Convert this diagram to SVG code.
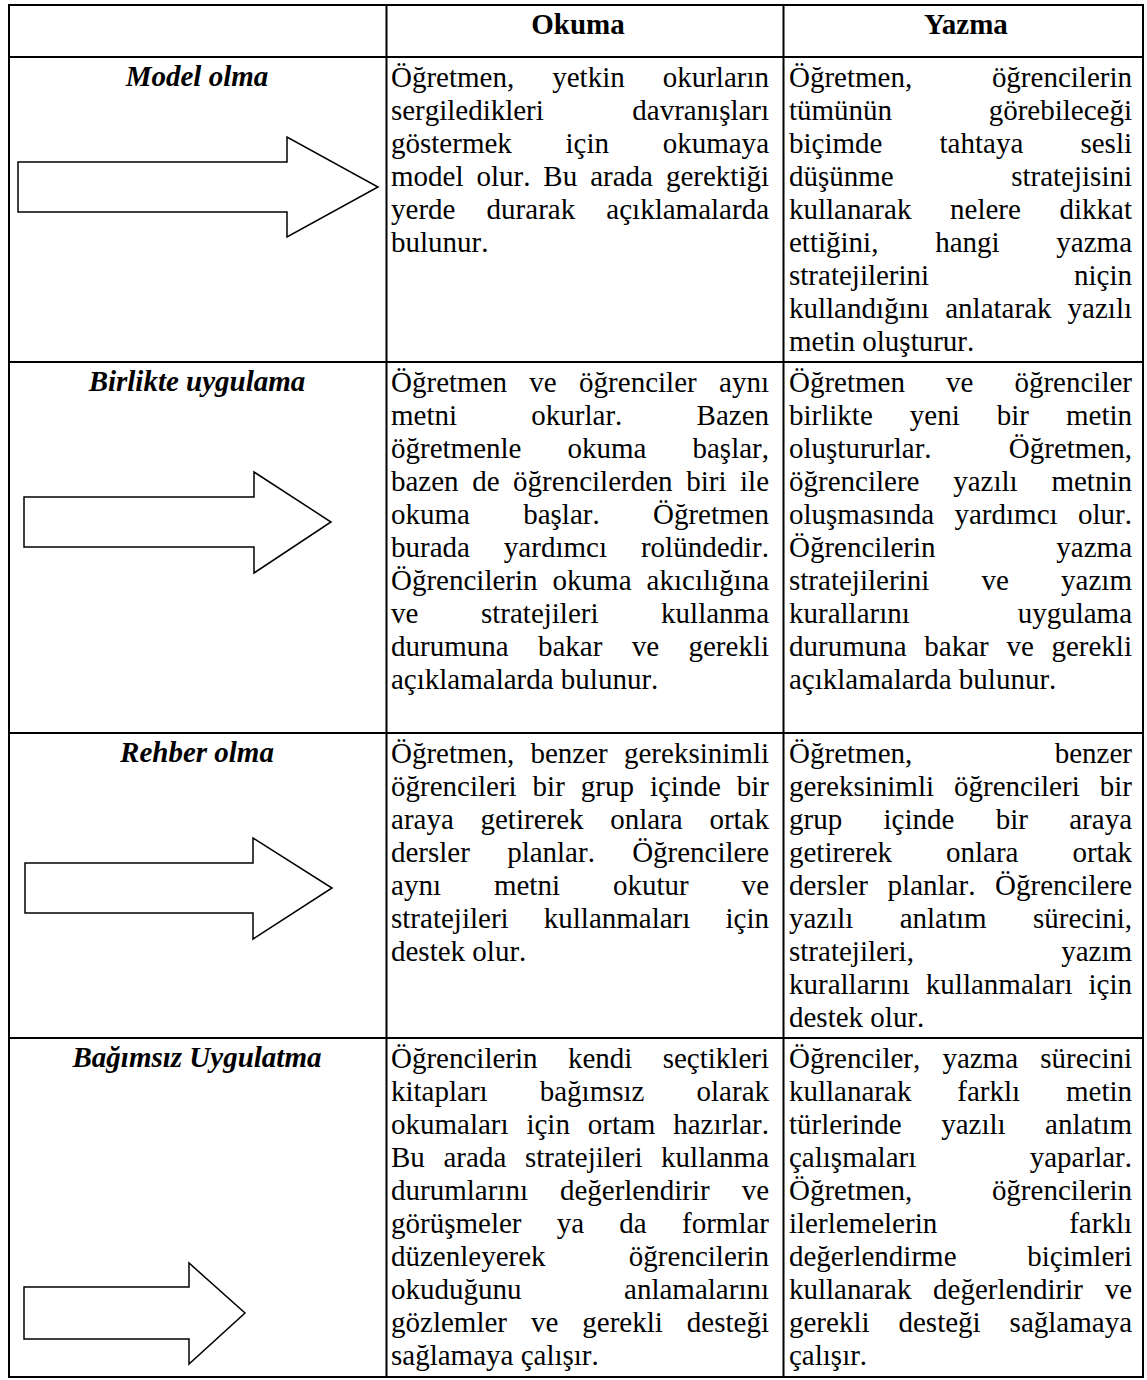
<svg xmlns="http://www.w3.org/2000/svg" width="1147" height="1380" viewBox="0 0 1147 1380">
  <style>
    .grid { stroke: #000; stroke-width: 2; fill: none; }
    .arrow { fill: #fff; stroke: #000; stroke-width: 1.5; stroke-linejoin: miter; }
    text { font-family: "Liberation Serif", "Times New Roman", serif; fill: #000; }
    .body { font-size: 29px; font-kerning: none; }
    .head { font-size: 29px; font-weight: bold; text-anchor: middle; }
    .stage { font-size: 29px; font-weight: bold; font-style: italic; text-anchor: middle; }
  </style>

  <!-- table frame -->
  <g id="table-grid" class="grid">
    <rect x="9" y="5" width="1134" height="1372"/>
    <line x1="386.5" y1="5" x2="386.5" y2="1377"/>
    <line x1="783.5" y1="5" x2="783.5" y2="1377"/>
    <line x1="9" y1="57" x2="1143" y2="57"/>
    <line x1="9" y1="362" x2="1143" y2="362"/>
    <line x1="9" y1="733" x2="1143" y2="733"/>
    <line x1="9" y1="1038" x2="1143" y2="1038"/>
  </g>

  <!-- column headings -->
  <g id="header">
    <text class="head" x="578" y="34">Okuma</text>
    <text class="head" x="966" y="34">Yazma</text>
  </g>

  <!-- block arrows, one per stage -->
  <g id="connectors">
    <polygon class="arrow" points="18,162 287,162 287,137 378,187 287,237 287,212 18,212"/>
    <polygon class="arrow" points="24,497 254,497 254,472 331,522 254,573 254,547 24,547"/>
    <polygon class="arrow" points="25,863 253,863 253,838 332,888 253,939 253,913 25,913"/>
    <polygon class="arrow" points="24,1287 189,1287 189,1263 245,1313 189,1364 189,1339 24,1339"/>
  </g>

  <!-- stage 1 -->
  <g id="model-olma">
    <text class="stage" x="197" y="86">Model olma</text>
    <g class="body">
      <text x="391" y="87" word-spacing="30.75" textLength="378" lengthAdjust="spacing">Öğretmen, yetkin okurların</text>
      <text x="391" y="120" word-spacing="81.4" textLength="378" lengthAdjust="spacing">sergiledikleri davranışları</text>
      <text x="391" y="153" word-spacing="46.4" textLength="378" lengthAdjust="spacing">göstermek için okumaya</text>
      <text x="391" y="186" word-spacing="5.7" textLength="378" lengthAdjust="spacing">model olur. Bu arada gerektiği</text>
      <text x="391" y="219" word-spacing="23.9" textLength="378" lengthAdjust="spacing">yerde durarak açıklamalarda</text>
      <text x="391" y="252">bulunur.</text>

      <text x="789" y="87" word-spacing="72.4" textLength="343" lengthAdjust="spacing">Öğretmen, öğrencilerin</text>
      <text x="789" y="120" word-spacing="89.3" textLength="343" lengthAdjust="spacing">tümünün görebileceği</text>
      <text x="789" y="153" word-spacing="49.9" textLength="343" lengthAdjust="spacing">biçimde tahtaya sesli</text>
      <text x="789" y="186" word-spacing="110.2" textLength="343" lengthAdjust="spacing">düşünme stratejisini</text>
      <text x="789" y="219" word-spacing="31.4" textLength="343" lengthAdjust="spacing">kullanarak nelere dikkat</text>
      <text x="789" y="252" word-spacing="49.5" textLength="343" lengthAdjust="spacing">ettiğini, hangi yazma</text>
      <text x="789" y="285" word-spacing="137.6" textLength="343" lengthAdjust="spacing">stratejilerini niçin</text>
      <text x="789" y="318" word-spacing="8.8" textLength="343" lengthAdjust="spacing">kullandığını anlatarak yazılı</text>
      <text x="789" y="351">metin oluşturur.</text>
    </g>
  </g>

  <!-- stage 2 -->
  <g id="birlikte-uygulama">
    <text class="stage" x="197" y="391">Birlikte uygulama</text>
    <g class="body">
      <text x="391" y="392" word-spacing="15.1" textLength="378" lengthAdjust="spacing">Öğretmen ve öğrenciler aynı</text>
      <text x="391" y="425" word-spacing="67" textLength="378" lengthAdjust="spacing">metni okurlar. Bazen</text>
      <text x="391" y="458" word-spacing="38.8" textLength="378" lengthAdjust="spacing">öğretmenle okuma başlar,</text>
      <text x="391" y="491" word-spacing="6.3" textLength="378" lengthAdjust="spacing">bazen de öğrencilerden biri ile</text>
      <text x="391" y="524" word-spacing="46" textLength="378" lengthAdjust="spacing">okuma başlar. Öğretmen</text>
      <text x="391" y="557" word-spacing="26.7" textLength="378" lengthAdjust="spacing">burada yardımcı rolündedir.</text>
      <text x="391" y="590" word-spacing="7.8" textLength="378" lengthAdjust="spacing">Öğrencilerin okuma akıcılığına</text>
      <text x="391" y="623" word-spacing="55.3" textLength="378" lengthAdjust="spacing">ve stratejileri kullanma</text>
      <text x="391" y="656" word-spacing="22.1" textLength="378" lengthAdjust="spacing">durumuna bakar ve gerekli</text>
      <text x="391" y="689">açıklamalarda bulunur.</text>

      <text x="789" y="392" word-spacing="33.8" textLength="343" lengthAdjust="spacing">Öğretmen ve öğrenciler</text>
      <text x="789" y="425" word-spacing="29.75" textLength="343" lengthAdjust="spacing">birlikte yeni bir metin</text>
      <text x="789" y="458" word-spacing="70" textLength="343" lengthAdjust="spacing">oluştururlar. Öğretmen,</text>
      <text x="789" y="491" word-spacing="26.5" textLength="343" lengthAdjust="spacing">öğrencilere yazılı metnin</text>
      <text x="789" y="524" word-spacing="13.2" textLength="343" lengthAdjust="spacing">oluşmasında yardımcı olur.</text>
      <text x="789" y="557" word-spacing="113.5" textLength="343" lengthAdjust="spacing">Öğrencilerin yazma</text>
      <text x="789" y="590" word-spacing="45" textLength="343" lengthAdjust="spacing">stratejilerini ve yazım</text>
      <text x="789" y="623" word-spacing="100.6" textLength="343" lengthAdjust="spacing">kurallarını uygulama</text>
      <text x="789" y="656" word-spacing="10.4" textLength="343" lengthAdjust="spacing">durumuna bakar ve gerekli</text>
      <text x="789" y="689">açıklamalarda bulunur.</text>
    </g>
  </g>

  <!-- stage 3 -->
  <g id="rehber-olma">
    <text class="stage" x="197" y="762">Rehber olma</text>
    <g class="body">
      <text x="391" y="763" word-spacing="9" textLength="378" lengthAdjust="spacing">Öğretmen, benzer gereksinimli</text>
      <text x="391" y="796" word-spacing="8.7" textLength="378" lengthAdjust="spacing">öğrencileri bir grup içinde bir</text>
      <text x="391" y="829" word-spacing="19.4" textLength="378" lengthAdjust="spacing">araya getirerek onlara ortak</text>
      <text x="391" y="862" word-spacing="30" textLength="378" lengthAdjust="spacing">dersler planlar. Öğrencilere</text>
      <text x="391" y="895" word-spacing="45.7" textLength="378" lengthAdjust="spacing">aynı metni okutur ve</text>
      <text x="391" y="928" word-spacing="27.9" textLength="378" lengthAdjust="spacing">stratejileri kullanmaları için</text>
      <text x="391" y="961">destek olur.</text>

      <text x="789" y="763" word-spacing="135.2" textLength="343" lengthAdjust="spacing">Öğretmen, benzer</text>
      <text x="789" y="796" word-spacing="12.8" textLength="343" lengthAdjust="spacing">gereksinimli öğrencileri bir</text>
      <text x="789" y="829" word-spacing="34.1" textLength="343" lengthAdjust="spacing">grup içinde bir araya</text>
      <text x="789" y="862" word-spacing="46.7" textLength="343" lengthAdjust="spacing">getirerek onlara ortak</text>
      <text x="789" y="895" word-spacing="12.4" textLength="343" lengthAdjust="spacing">dersler planlar. Öğrencilere</text>
      <text x="789" y="928" word-spacing="39" textLength="343" lengthAdjust="spacing">yazılı anlatım sürecini,</text>
      <text x="789" y="961" word-spacing="140" textLength="343" lengthAdjust="spacing">stratejileri, yazım</text>
      <text x="789" y="994" word-spacing="8.8" textLength="343" lengthAdjust="spacing">kurallarını kullanmaları için</text>
      <text x="789" y="1027">destek olur.</text>
    </g>
  </g>

  <!-- stage 4 -->
  <g id="bagimsiz-uygulatma">
    <text class="stage" x="197" y="1067">Bağımsız Uygulatma</text>
    <g class="body">
      <text x="391" y="1068" word-spacing="23.1" textLength="378" lengthAdjust="spacing">Öğrencilerin kendi seçtikleri</text>
      <text x="391" y="1101" word-spacing="44.8" textLength="378" lengthAdjust="spacing">kitapları bağımsız olarak</text>
      <text x="391" y="1134" word-spacing="10.6" textLength="378" lengthAdjust="spacing">okumaları için ortam hazırlar.</text>
      <text x="391" y="1167" word-spacing="11.4" textLength="378" lengthAdjust="spacing">Bu arada stratejileri kullanma</text>
      <text x="391" y="1200" word-spacing="24.7" textLength="378" lengthAdjust="spacing">durumlarını değerlendirir ve</text>
      <text x="391" y="1233" word-spacing="28" textLength="378" lengthAdjust="spacing">görüşmeler ya da formlar</text>
      <text x="391" y="1266" word-spacing="76" textLength="378" lengthAdjust="spacing">düzenleyerek öğrencilerin</text>
      <text x="391" y="1299" word-spacing="95.3" textLength="378" lengthAdjust="spacing">okuduğunu anlamalarını</text>
      <text x="391" y="1332" word-spacing="16.7" textLength="378" lengthAdjust="spacing">gözlemler ve gerekli desteği</text>
      <text x="391" y="1365">sağlamaya çalışır.</text>

      <text x="789" y="1068" word-spacing="14.9" textLength="343" lengthAdjust="spacing">Öğrenciler, yazma sürecini</text>
      <text x="789" y="1101" word-spacing="38.6" textLength="343" lengthAdjust="spacing">kullanarak farklı metin</text>
      <text x="789" y="1134" word-spacing="32.2" textLength="343" lengthAdjust="spacing">türlerinde yazılı anlatım</text>
      <text x="789" y="1167" word-spacing="106.2" textLength="343" lengthAdjust="spacing">çalışmaları yaparlar.</text>
      <text x="789" y="1200" word-spacing="72.4" textLength="343" lengthAdjust="spacing">Öğretmen, öğrencilerin</text>
      <text x="789" y="1233" word-spacing="124.7" textLength="343" lengthAdjust="spacing">ilerlemelerin farklı</text>
      <text x="789" y="1266" word-spacing="63.5" textLength="343" lengthAdjust="spacing">değerlendirme biçimleri</text>
      <text x="789" y="1299" word-spacing="14.5" textLength="343" lengthAdjust="spacing">kullanarak değerlendirir ve</text>
      <text x="789" y="1332" word-spacing="21.7" textLength="343" lengthAdjust="spacing">gerekli desteği sağlamaya</text>
      <text x="789" y="1365">çalışır.</text>
    </g>
  </g>
</svg>
